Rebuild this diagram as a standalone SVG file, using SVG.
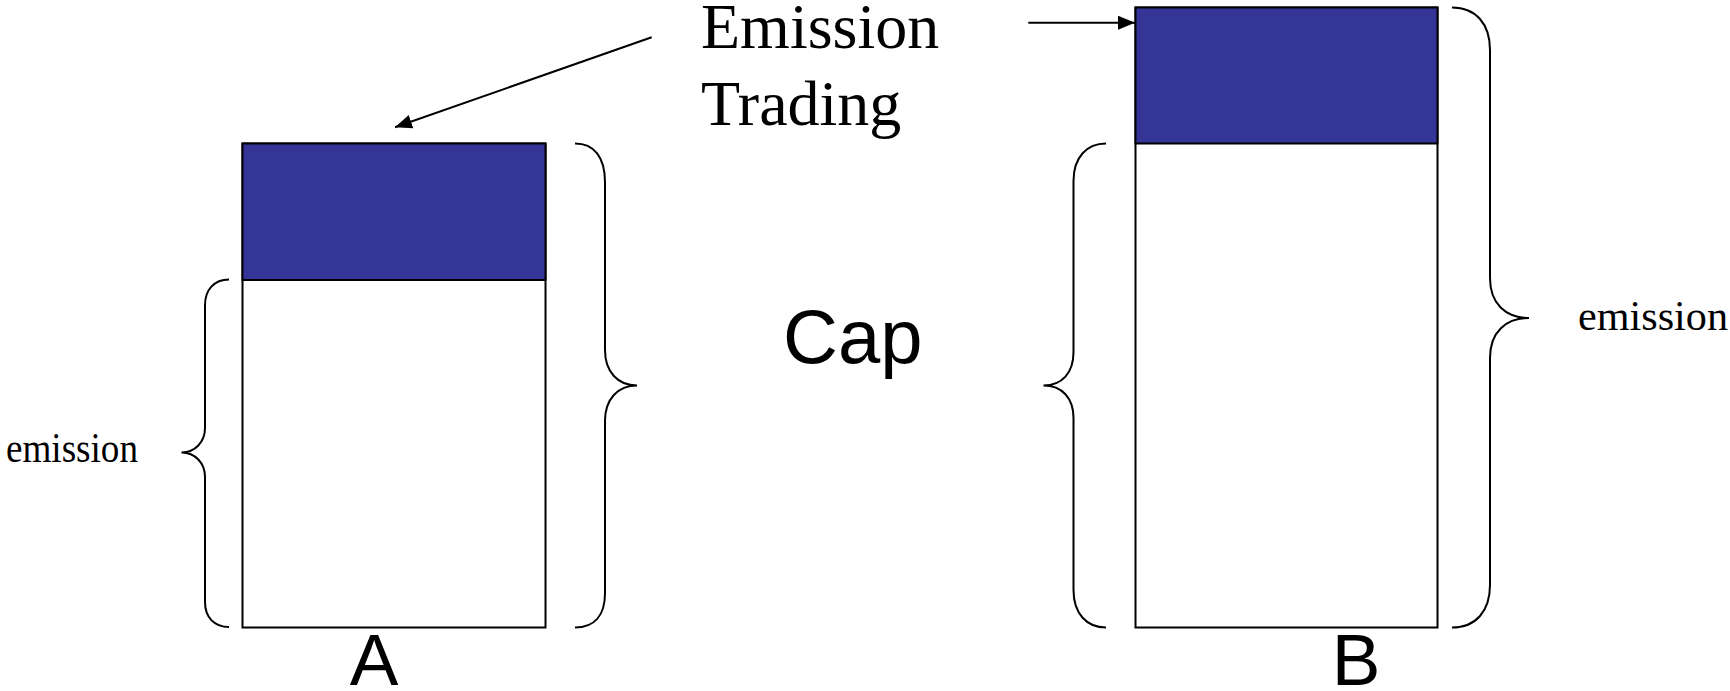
<svg xmlns="http://www.w3.org/2000/svg" width="1730" height="691" viewBox="0 0 1730 691">
  <style>
    .box { fill: #ffffff; stroke: #000000; stroke-width: 2; }
    .blue { fill: #353598; stroke: #000000; stroke-width: 2; }
    .brace { fill: none; stroke: #000000; stroke-width: 2; }
    .serif { font-family: "Liberation Serif", "Times New Roman", serif; fill: #000000; }
    .sans { font-family: "Liberation Sans", Arial, sans-serif; fill: #000000; }
    .conn { fill: none; stroke: #000000; stroke-width: 2; }
  </style>
  <defs>
    <marker id="arrow" markerUnits="userSpaceOnUse" markerWidth="20" markerHeight="14" refX="17" refY="7" orient="auto">
      <path d="M0,0 L17,7 L0,14 Z" fill="#000000"/>
    </marker>
  </defs>
  <rect width="1730" height="691" fill="#ffffff"/>

  <g id="barA">
    <rect class="box" x="242.5" y="143.5" width="303" height="484"/>
    <rect class="blue" x="242.5" y="143.5" width="303" height="136.5"/>
    <text class="sans" x="374" y="685" font-size="73" text-anchor="middle">A</text>
  </g>

  <g id="barB">
    <rect class="box" x="1135.5" y="7.5" width="302" height="620"/>
    <rect class="blue" x="1135.5" y="7.5" width="302" height="136"/>
    <text class="sans" x="1356" y="685" font-size="73" text-anchor="middle">B</text>
  </g>

  <g id="braceA-left">
    <path class="brace" d="M229,279.5 C214,279.5 205,290 205,305 L205,428 C205,442 195,452.5 181.5,452.5 C195,452.5 205,463 205,477 L205,602 C205,617 214,627 229,627"/>
    <text class="serif" x="6" y="461.5" font-size="42" textLength="132" lengthAdjust="spacingAndGlyphs">emission</text>
  </g>

  <g id="braceA-right">
    <path class="brace" d="M575,143.5 C594,143.5 605,157 605,182 L605,350 C605,372 618,385.5 637,385.5 C618,385.5 605,399 605,421 L605,593 C605,616 594,627.5 575,627.5"/>
  </g>

  <g id="braceB-left">
    <path class="brace" d="M1106,143.5 C1087,143.5 1073.5,157 1073.5,181 L1073.5,352 C1073.5,373 1062,385.5 1043.5,385.5 C1062,385.5 1073.5,398 1073.5,418 L1073.5,590 C1073.5,614 1087,627.5 1106,627.5"/>
  </g>

  <g id="braceB-right">
    <path class="brace" d="M1452,7.5 C1476,7.5 1490,24 1490,50 L1490,278 C1490,304 1506,318 1529,318 C1506,318 1490,332 1490,358 L1490,585 C1490,611 1476,627.5 1452,627.5"/>
    <text class="serif" x="1578" y="330" font-size="42" textLength="150" lengthAdjust="spacingAndGlyphs">emission</text>
  </g>

  <g id="label-trading">
    <text class="serif" x="701" y="48" font-size="64">Emission</text>
    <text class="serif" x="701" y="125" font-size="64">Trading</text>
  </g>

  <g id="label-cap">
    <text class="sans" x="783" y="363" font-size="76">Cap</text>
  </g>

  <g id="connectors">
    <line class="conn" x1="651.7" y1="37.3" x2="395" y2="127.3" marker-end="url(#arrow)"/>
    <line class="conn" x1="1028.3" y1="22.7" x2="1135" y2="22.7" marker-end="url(#arrow)"/>
  </g>
</svg>
